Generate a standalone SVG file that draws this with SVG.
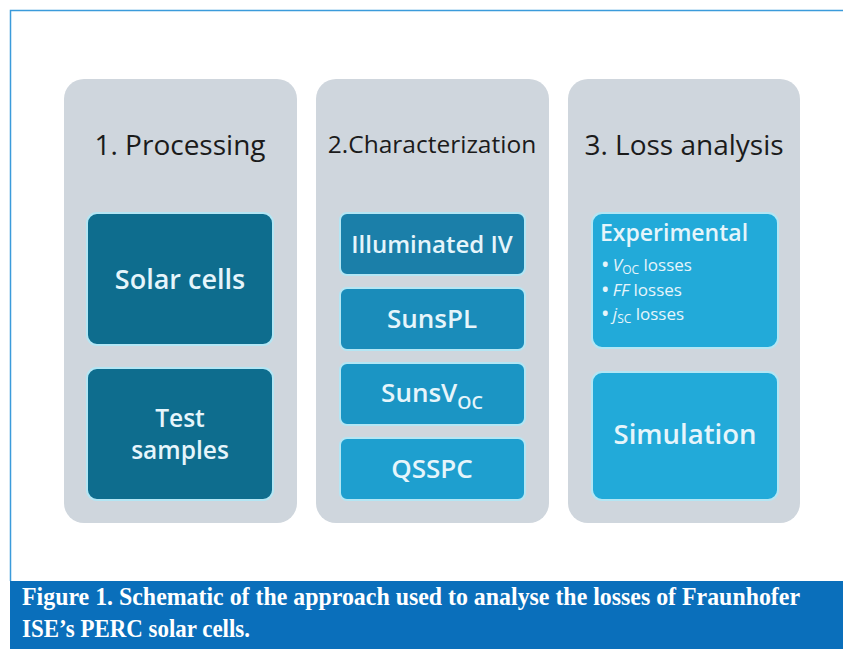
<svg xmlns="http://www.w3.org/2000/svg" width="843" height="649" viewBox="0 0 843 649">
  <style>
    .col { fill: #cfd6dd; }
    .title { font-family: "Open Sans", "Noto Sans", sans-serif; fill: #1b1b1b; text-anchor: middle; }
    .box { stroke: #b4e6f4; stroke-width: 2; }
    .lbl { font-family: "Open Sans", "Noto Sans", sans-serif; font-weight: 600; fill: #e6f5fb; text-anchor: middle; }
    .exp { font-family: "Open Sans", "Noto Sans", sans-serif; fill: #e6f5fb; }
    .cap { font-family: "Liberation Serif", "Times New Roman", serif; font-weight: bold; fill: #ffffff; font-size: 25px; }
  </style>

  <rect width="843" height="649" fill="#ffffff"/>

  <!-- frame -->
  <path d="M10.5 581 V10.5 H843" fill="none" stroke="#3b9bdb" stroke-width="1.5"/>

  <!-- column 1: processing -->
  <g id="col-processing">
    <rect class="col" x="64" y="79" width="233" height="444" rx="20"/>
    <text class="title" x="180" y="155" font-size="28">1. Processing</text>
  </g>
  <g id="node-solar-cells">
    <rect class="box" x="87" y="213" width="186" height="132" rx="10" fill="#0e6d8e"/>
    <text class="lbl" x="180" y="289" font-size="27">Solar cells</text>
  </g>
  <g id="node-test-samples">
    <rect class="box" x="87" y="368" width="186" height="132" rx="10" fill="#0e6d8e"/>
    <text class="lbl" x="180" y="427" font-size="24.5">Test</text>
    <text class="lbl" x="180" y="459" font-size="24.5">samples</text>
  </g>

  <!-- column 2: characterization -->
  <g id="col-characterization">
    <rect class="col" x="316" y="79" width="233" height="444" rx="20"/>
    <text class="title" x="432" y="153" font-size="24.5">2.Characterization</text>
  </g>
  <g id="node-illuminated-iv">
    <rect class="box" x="340" y="213" width="185" height="62" rx="7" fill="#1b7fa9"/>
    <text class="lbl" x="432" y="253" font-size="24">Illuminated IV</text>
  </g>
  <g id="node-sunspl">
    <rect class="box" x="340" y="288" width="185" height="62" rx="7" fill="#1a8cba"/>
    <text class="lbl" x="432" y="328" font-size="26">SunsPL</text>
  </g>
  <g id="node-sunsvoc">
    <rect class="box" x="340" y="363" width="185" height="62" rx="7" fill="#1b95c4"/>
    <text class="lbl" x="432" y="402" font-size="26">SunsV<tspan font-size="18" dy="7">OC</tspan></text>
  </g>
  <g id="node-qsspc">
    <rect class="box" x="340" y="438" width="185" height="62" rx="7" fill="#1e9fcf"/>
    <text class="lbl" x="432" y="478" font-size="26">QSSPC</text>
  </g>

  <!-- column 3: loss analysis -->
  <g id="col-loss-analysis">
    <rect class="col" x="568" y="79" width="232" height="444" rx="20"/>
    <text class="title" x="684" y="155" font-size="28">3. Loss analysis</text>
  </g>
  <g id="node-experimental">
    <rect class="box" x="592" y="213" width="186" height="135" rx="10" fill="#22aad9"/>
    <text class="exp" x="600" y="241" font-size="23" font-weight="600">Experimental</text>
    <text class="exp" x="602" y="271" font-size="17"><tspan font-weight="bold">•</tspan> <tspan font-style="italic">V</tspan><tspan font-size="12" dy="3">OC</tspan><tspan dy="-3"> losses</tspan></text>
    <text class="exp" x="602" y="296" font-size="17"><tspan font-weight="bold">•</tspan> <tspan font-style="italic">FF</tspan> losses</text>
    <text class="exp" x="602" y="320" font-size="17"><tspan font-weight="bold">•</tspan> <tspan font-style="italic">j</tspan><tspan font-size="12" dy="3">SC</tspan><tspan dy="-3"> losses</tspan></text>
  </g>
  <g id="node-simulation">
    <rect class="box" x="592" y="372" width="186" height="128" rx="10" fill="#22aad9"/>
    <text class="lbl" x="685" y="444" font-size="27.5">Simulation</text>
  </g>

  <!-- caption bar -->
  <g id="caption">
    <rect x="10" y="581" width="833" height="68" fill="#0a6fbb"/>
    <text class="cap" x="22" y="605" textLength="778" lengthAdjust="spacingAndGlyphs">Figure 1. Schematic of the approach used to analyse the losses of Fraunhofer</text>
    <text class="cap" x="22" y="637" textLength="228" lengthAdjust="spacingAndGlyphs">ISE’s PERC solar cells.</text>
  </g>
</svg>
